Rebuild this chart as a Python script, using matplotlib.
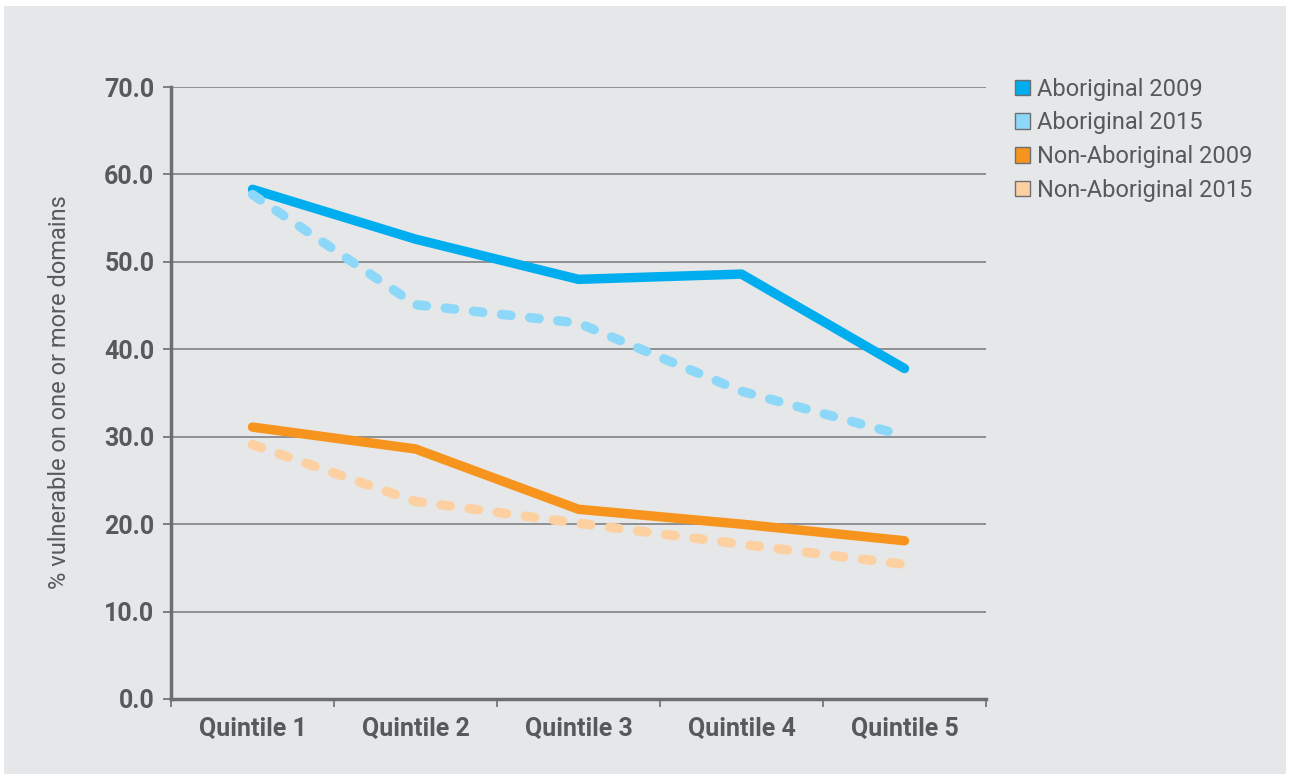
import matplotlib.pyplot as plt
from matplotlib.patches import Patch, Rectangle

# values
quintiles = ["Quintile 1", "Quintile 2", "Quintile 3", "Quintile 4", "Quintile 5"]
aboriginal_2009 = [58.3, 52.6, 48.0, 48.6, 37.8]
aboriginal_2015 = [57.7, 45.1, 43.0, 35.2, 30.1]
non_aboriginal_2009 = [31.1, 28.6, 21.7, 20.0, 18.1]
non_aboriginal_2015 = [29.1, 22.6, 20.1, 17.7, 15.4]
y_ticks = [0, 10, 20, 30, 40, 50, 60, 70]

series = [
    ("Aboriginal 2009", aboriginal_2009, "#00AEEF", "solid"),
    ("Aboriginal 2015", aboriginal_2015, "#8DD8F8", "dashed"),
    ("Non-Aboriginal 2009", non_aboriginal_2009, "#F7941D", "solid"),
    ("Non-Aboriginal 2015", non_aboriginal_2015, "#FDD0A2", "dashed"),
]

text_col = "#58595B"
axis_col = "#6D6E71"
bg_col = "#E6E7E8"

plt.rcParams["font.family"] = ["Roboto", "DejaVu Sans"]

fig = plt.figure(figsize=(12.9, 7.79), dpi=100, facecolor="white")
# grey panel behind the chart
fig.patches.append(Rectangle((4 / 1290, 5 / 779), 1282 / 1290, 768 / 779,
                             transform=fig.transFigure, facecolor=bg_col,
                             edgecolor="none", zorder=0))

ax = fig.add_axes([171 / 1290, 1 - 699 / 779, 815 / 1290, 612 / 779])
ax.set_zorder(2)
ax.set_facecolor("none")

x = list(range(len(quintiles)))
for label, vals, col, style in series:
    line, = ax.plot(x, vals, color=col, lw=6.8, solid_capstyle="round",
                    solid_joinstyle="round", label=label, zorder=3)
    if style == "dashed":
        line.set_dashes((1.0, 2.0))
        line.set_dash_capstyle("round")

ax.set_xlim(-0.5, 4.5)
ax.set_ylim(0, 70)
ax.set_yticks(y_ticks)
ax.set_yticklabels([f"{v:.1f}" for v in y_ticks])
ax.set_xticks(x)
ax.set_xticklabels(quintiles)
ax.set_xticks([i + 0.5 for i in range(-1, 5)], minor=True)
ax.tick_params(axis="x", which="major", length=0, pad=13)
ax.tick_params(axis="x", which="minor", length=6, width=1.2, color=axis_col)
ax.tick_params(axis="y", length=6, width=1.2, color=axis_col, pad=6)
for lab in ax.get_xticklabels() + ax.get_yticklabels():
    lab.set_fontweight("bold")
    lab.set_fontsize(18)
    lab.set_color(text_col)

ax.yaxis.grid(True, color="#808285", lw=1.2)
ax.set_axisbelow(True)
for side in ["top", "right"]:
    ax.spines[side].set_visible(False)
for side in ["left", "bottom"]:
    ax.spines[side].set_color(axis_col)
    ax.spines[side].set_linewidth(2.5)

fig.text(60 / 1290, 1 - 392 / 779, "% vulnerable on one or more domains",
         rotation=90, ha="center", va="center", fontsize=17, color=text_col)

handles = [Patch(facecolor=col, edgecolor=axis_col, lw=1, label=label)
           for label, vals, col, style in series]
leg = fig.legend(handles=handles, loc="upper left",
                 bbox_to_anchor=(1003 / 1290, 1 - 66 / 779),
                 frameon=False, fontsize=17, handlelength=0.65, handleheight=0.65,
                 handletextpad=0.3, labelspacing=0.45, borderpad=0)
for t in leg.get_texts():
    t.set_color(text_col)

plt.savefig("out.png", dpi=100, facecolor="white")
